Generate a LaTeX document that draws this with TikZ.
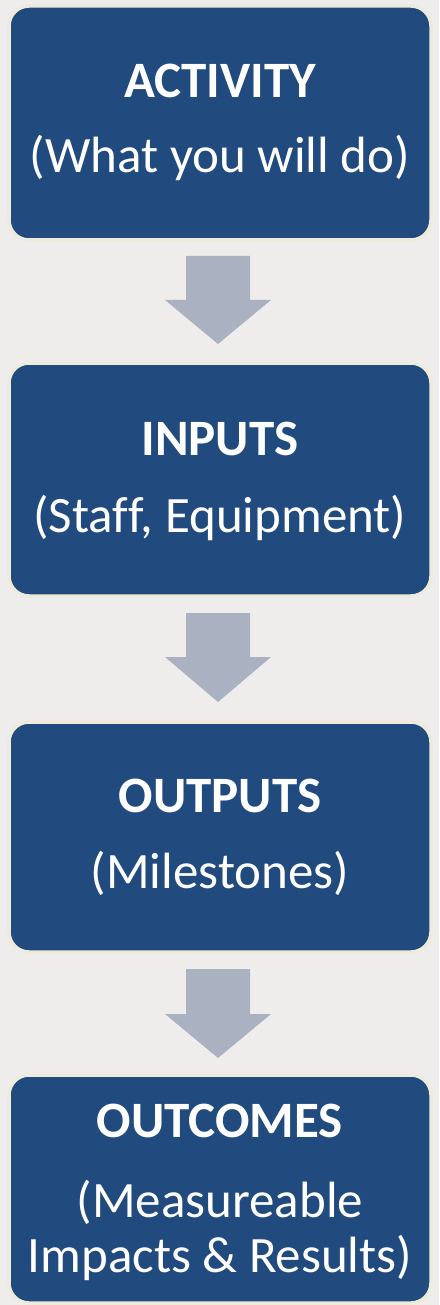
\documentclass[tikz,border=0pt]{standalone}
\usepackage{fontspec}
\setmainfont{Carlito}
\definecolor{bg}{HTML}{EEEDEB}
\definecolor{boxblue}{HTML}{214A7E}
\definecolor{cream}{HTML}{EDEBDC}
\definecolor{arrowgray}{HTML}{AAB1C1}
\begin{document}
\begin{tikzpicture}[x=1pt,y=-1pt,
  stagebox/.style={draw=cream,line width=3.5pt,fill=boxblue,rounded corners=20pt,minimum width=422pt,inner sep=0pt},
  titletxt/.style={anchor=base,text=white,font=\fontsize{51}{51}\selectfont\bfseries,inner sep=0pt},
  subtxt/.style={anchor=base,text=white,font=\fontsize{51}{51}\selectfont,inner sep=0pt},
  blockarrow/.style={fill=arrowgray,draw=none}]
\fill[bg] (0,0) rectangle (439,1305);
\useasboundingbox (0,0) rectangle (439,1305);
% boxes
\node[stagebox,minimum height=234pt] (b1) at (220,123) {};
\node[stagebox,minimum height=233pt] (b2) at (220,479.5) {};
\node[stagebox,minimum height=230pt] (b3) at (220,837) {};
\node[stagebox,minimum height=228pt] (b4) at (220,1189) {};
% texts
\node[titletxt] (t1) at (220,98) {ACTIVITY};
\node[subtxt] (s1) at (220,173) {(What you will do)};
\node[titletxt] (t2) at (220,455) {INPUTS};
\node[subtxt] (s2) at (220,532) {(Staf\kern0ptf, Equipment)};
\node[titletxt] (t3) at (220,812) {OUTPUTS};
\node[subtxt] (s3) at (220,888) {(Milestones)};
\node[titletxt] (t4) at (220,1137) {OUTCOMES};
\node[subtxt] (s4a) at (220,1217) {(Measureable};
\node[subtxt] (s4b) at (220,1272) {Impacts \& Results)};
% block arrows
\foreach \top/\wing/\tip in {256/300/344, 613/657/702, 969/1014/1058}{
  \fill[arrowgray] (186,\top) -- (250,\top) -- (250,\wing) -- (271,\wing) -- (218,\tip) -- (165,\wing) -- (186,\wing) -- cycle;
}
\end{tikzpicture}
\end{document}
